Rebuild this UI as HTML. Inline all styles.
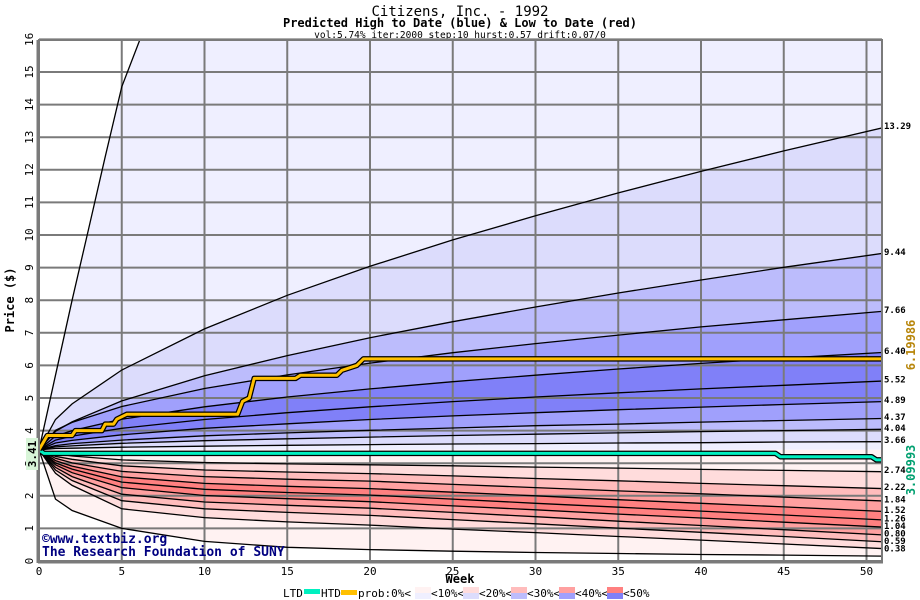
<!DOCTYPE html>
<html><head><meta charset="utf-8"><style>
html,body{margin:0;padding:0;background:#fff;}
svg{display:block;font-family:"DejaVu Sans Mono","Liberation Mono",monospace;}
</style></head><body>
<svg id="chart" width="920" height="600" viewBox="0 0 920 600" xmlns="http://www.w3.org/2000/svg">
<text x="460" y="16" text-anchor="middle" font-size="14">Citizens, Inc. - 1992</text>
<text x="460" y="27" text-anchor="middle" font-size="12" font-weight="bold">Predicted High to Date (blue) &amp;  Low to Date (red)</text>
<text x="460" y="38" text-anchor="middle" font-size="9.5">vol:5.74% iter:2000 step:10 hurst:0.57 drift:0.07/0</text>
<g id="fills"></g>
<g id="grid"></g>
<g id="lines"></g>
<g id="series"></g>
<g id="axes"></g>
<text x="14" y="300" font-size="12" font-weight="bold" text-anchor="middle" transform="rotate(-90 14 300)">Price ($)</text>
<text x="460" y="583" font-size="12" font-weight="bold" text-anchor="middle">Week</text>
<g fill="#000080" font-weight="bold" font-size="13">
<text x="42" y="543">©www.textbiz.org</text>
<text x="42" y="556">The Research Foundation of SUNY</text>
</g>
<g id="legend" font-size="11"></g>
</svg>
<script>
const weeks=[0,1,2,5,10,15,20,25,30,35,40,45,51];
const maxWeeks=[0,1,2,3,4,5,6.1,51];
const maxVals=[3.41,5.7,8.0,10.2,12.4,14.55,16,16];
const up1329=[3.41,4.34,4.82,5.86,7.12,8.15,9.04,9.85,10.59,11.29,11.95,12.58,13.29];
const up944=[3.41,3.98,4.27,4.91,5.68,6.30,6.85,7.34,7.79,8.22,8.62,9.01,9.44];
const up766=[3.41,4.01,4.25,4.74,5.29,5.71,6.07,6.39,6.67,6.93,7.18,7.40,7.66];
const up640=[3.41,3.83,4.00,4.35,4.73,5.03,5.28,5.50,5.70,5.89,6.06,6.22,6.40];
const up552=[3.41,3.71,3.83,4.07,4.34,4.55,4.73,4.89,5.03,5.16,5.28,5.39,5.52];
const up489=[3.41,3.62,3.70,3.87,4.07,4.21,4.34,4.45,4.55,4.64,4.72,4.80,4.89];
const up437=[3.41,3.54,3.60,3.71,3.84,3.93,4.01,4.08,4.15,4.20,4.26,4.31,4.37];
const up404=[3.41,3.50,3.53,3.61,3.69,3.75,3.80,3.85,3.89,3.93,3.97,4.00,4.04];
const up366=[3.41,3.45,3.46,3.49,3.52,3.55,3.57,3.59,3.60,3.62,3.63,3.65,3.66];
const median=[3.41,3.41,3.41,3.41,3.41,3.41,3.41,3.41,3.41,3.41,3.41,3.41,3.41];
const lo274=[3.41,3.29,3.22,3.10,3.02,2.98,2.95,2.92,2.88,2.85,2.81,2.78,2.74];
const lo222=[3.41,3.21,3.12,2.92,2.79,2.73,2.68,2.61,2.53,2.46,2.38,2.31,2.22];
const lo184=[3.41,3.15,3.01,2.75,2.59,2.51,2.45,2.35,2.25,2.15,2.06,1.96,1.84];
const lo152=[3.41,3.08,2.91,2.58,2.38,2.29,2.22,2.11,2.00,1.88,1.77,1.66,1.52];
const lo126=[3.41,3.01,2.82,2.42,2.20,2.10,2.02,1.90,1.77,1.65,1.53,1.41,1.26];
const lo104=[3.41,2.95,2.71,2.25,2.01,1.91,1.82,1.69,1.57,1.44,1.32,1.19,1.04];
const lo080=[3.41,2.87,2.59,2.05,1.81,1.71,1.62,1.49,1.36,1.22,1.09,0.96,0.80];
const lo059=[3.41,2.79,2.47,1.85,1.60,1.49,1.40,1.27,1.14,1.01,0.88,0.75,0.59];
const lo038=[3.41,2.69,2.32,1.60,1.33,1.20,1.10,0.98,0.87,0.75,0.64,0.52,0.38];
const minVals=[3.41,1.9,1.55,1.0,0.6,0.42,0.35,0.30,0.26,0.23,0.20,0.18,0.15];
const endLabels=["13.29","9.44","7.66","6.40","5.52","4.89","4.37","4.04","3.66","2.74","2.22","1.84","1.52","1.26","1.04","0.80","0.59","0.38"];
const htdWeeks=[0,0.5,2,2.2,3.8,4.0,4.5,4.7,5.3,12,12.3,12.7,13.0,15.5,15.8,18,18.3,19.2,19.6,51];
const htdVals=[3.41,3.85,3.85,4.0,4.0,4.2,4.2,4.35,4.5,4.5,4.9,5.0,5.6,5.6,5.7,5.7,5.85,6.0,6.2,6.2];
const ltdWeeks=[0,0.3,44.5,44.8,50.3,50.6,51];
const ltdVals=[3.41,3.30,3.30,3.20,3.20,3.10,3.10];
const xTicks=[0,5,10,15,20,25,30,35,40,45,50];
const yTicks=[0,1,2,3,4,5,6,7,8,9,10,11,12,13,14,15,16];
const endVals=[13.29,9.44,7.66,6.40,5.52,4.89,4.37,4.04,3.66,2.74,2.22,1.84,1.52,1.26,1.04,0.80,0.59,0.38];

const NS="http://www.w3.org/2000/svg";
const X0=39,XS=16.55,Y0=561,YS=32.6,XR=882,YT=40;
const xs=w=>X0+w*XS, ys=v=>Y0-v*YS;
function mk(tag,attrs,parent){const e=document.createElementNS(NS,tag);for(const k in attrs)e.setAttribute(k,attrs[k]);parent.appendChild(e);return e;}
const svg=document.getElementById('chart');
const defs=mk('defs',{},svg);
const cp=mk('clipPath',{id:'plotclip'},defs);
mk('rect',{x:X0,y:YT,width:XR-X0,height:Y0-YT},cp);
const fills=document.getElementById('fills'),grid=document.getElementById('grid'),lines=document.getElementById('lines'),series=document.getElementById('series'),axes=document.getElementById('axes');
fills.setAttribute('clip-path','url(#plotclip)');lines.setAttribute('clip-path','url(#plotclip)');series.setAttribute('clip-path','url(#plotclip)');
const pts=(wk,vals)=>wk.map((w,i)=>xs(w).toFixed(1)+','+ys(vals[i]).toFixed(1));
function band(wa,a,wb,b,color,name){
  const p=pts(wa,a).concat(pts(wb,b).reverse());
  const el=mk('polygon',{points:p.join(' '),fill:color},fills);
  
  
}
band(maxWeeks,maxVals,weeks,up1329,'#efefff','band-upper-0');
const ups=[up1329,up944,up766,up640,up552,up489,up437,up404,up366,median];
const upCols=['#dcdcfc','#bcbcfc','#a0a0fc','#8080f8','#8080f8','#a0a0fc','#bcbcfc','#dcdcfc','#efefff'];
for(let i=0;i<9;i++)band(weeks,ups[i],weeks,ups[i+1],upCols[i],'band-upper-'+(i+1));
const los=[median,lo274,lo222,lo184,lo152,lo126,lo104,lo080,lo059,lo038,minVals];
const loCols=['#fff2f2','#ffdcdc','#ffbcbc','#ffa0a0','#ff8080','#ff8080','#ffa0a0','#ffbcbc','#ffdcdc','#fff2f2'];
for(let i=0;i<10;i++)band(weeks,los[i],weeks,los[i+1],loCols[i],'band-lower-'+(i+1));
xTicks.forEach(t=>{if(t===0)return;const l=mk('line',{x1:xs(t),x2:xs(t),y1:YT,y2:Y0,stroke:'#7a7a7a','stroke-width':2},grid);

});
yTicks.forEach(t=>{if(t===0)return;const l=mk('line',{x1:X0,x2:XR,y1:ys(t),y2:ys(t),stroke:'#7a7a7a','stroke-width':2},grid);

});
function pl(wk,vals,name){const e=mk('polyline',{points:pts(wk,vals).join(' '),fill:'none',stroke:'#000','stroke-width':1.3},lines);

}
pl(maxWeeks,maxVals,'max-line');
[up1329,up944,up766,up640,up552,up489,up437,up404,up366,lo274,lo222,lo184,lo152,lo126,lo104,lo080,lo059,lo038].forEach((a,i)=>pl(weeks,a,'percentile-line-'+endLabels[i]));
pl(weeks,minVals,'min-line');
function ser(wk,vals,col,name){const p=pts(wk,vals).join(' ');
mk('polyline',{points:p,fill:'none',stroke:'#000','stroke-width':5.5,'stroke-linejoin':'round'},series);
const e=mk('polyline',{points:p,fill:'none',stroke:col,'stroke-width':3,'stroke-linejoin':'round'},series);

}
ser(ltdWeeks,ltdVals,'#00f0c0','ltd-line');
ser(htdWeeks,htdVals,'#ffc000','htd-line');
mk('rect',{x:X0,y:YT,width:XR-X0,height:Y0-YT,fill:'none',stroke:'#7a7a7a','stroke-width':2},axes);
mk('line',{x1:X0-1,x2:X0-1,y1:YT,y2:Y0+2,stroke:'#7a7a7a','stroke-width':3},axes);
mk('line',{x1:X0-1,x2:XR+1,y1:Y0+1,y2:Y0+1,stroke:'#7a7a7a','stroke-width':3},axes);
xTicks.forEach(t=>{const e=mk('text',{x:xs(t),y:575,'font-size':11,'text-anchor':'middle'},axes);e.textContent=t;

});
yTicks.forEach(t=>{const x=33,y=ys(t);const e=mk('text',{x:x,y:y,'font-size':11,'text-anchor':'middle',transform:`rotate(-90 ${x} ${y})`},axes);e.textContent=t;

});
let lastY=-100;
endVals.forEach((v,i)=>{let y=ys(v)-1;if(y<lastY+7.5)y=lastY+7.5;lastY=y;
const e=mk('text',{x:884,y:y,'font-size':9,'font-weight':'bold','dominant-baseline':'middle'},axes);e.textContent=endLabels[i];

});
const sr=mk('rect',{x:26,y:438,width:12,height:32,fill:'#d8f5d8'},axes);


const st=mk('text',{x:36,y:454,'font-size':11,'font-weight':'bold','text-anchor':'middle',fill:'#000',transform:'rotate(-90 36 454)'},axes);st.textContent='3.41';


const h1=mk('text',{x:915,y:345,'font-size':12,'font-weight':'bold','text-anchor':'middle',fill:'#b8860b',transform:'rotate(-90 915 345)'},axes);h1.textContent='6.19986';


const l1=mk('text',{x:915,y:470,'font-size':12,'font-weight':'bold','text-anchor':'middle',fill:'#00a070',transform:'rotate(-90 915 470)'},axes);l1.textContent='3.09993';


const lg=document.getElementById('legend');
function lt(x,s,name){const e=mk('text',{x:x,y:597},lg);e.textContent=s;

}
lt(283,'LTD','legend-ltd-label');
mk('rect',{x:304,y:589,width:16,height:5,fill:'#00f0c0'},lg);
lt(321,'HTD','legend-htd-label');
mk('rect',{x:341,y:590,width:16,height:5,fill:'#ffc000'},lg);
lt(358,'prob:0%<','legend-prob-label');
const pinks=['#fff2f2','#ffdcdc','#ffbcbc','#ffa0a0','#ff8080'];
const blues=['#efefff','#dcdcfc','#bcbcfc','#a0a0fc','#8080f8'];
const labs=['<10%<','<20%<','<30%<','<40%<','<50%'];
let lx=415;
for(let i=0;i<5;i++){mk('rect',{x:lx,y:587,width:16,height:6,fill:pinks[i]},lg);mk('rect',{x:lx,y:593,width:16,height:6,fill:blues[i]},lg);
lt(lx+16,labs[i],'legend-band-'+i);lx+=48;}
</script>
</body></html>
